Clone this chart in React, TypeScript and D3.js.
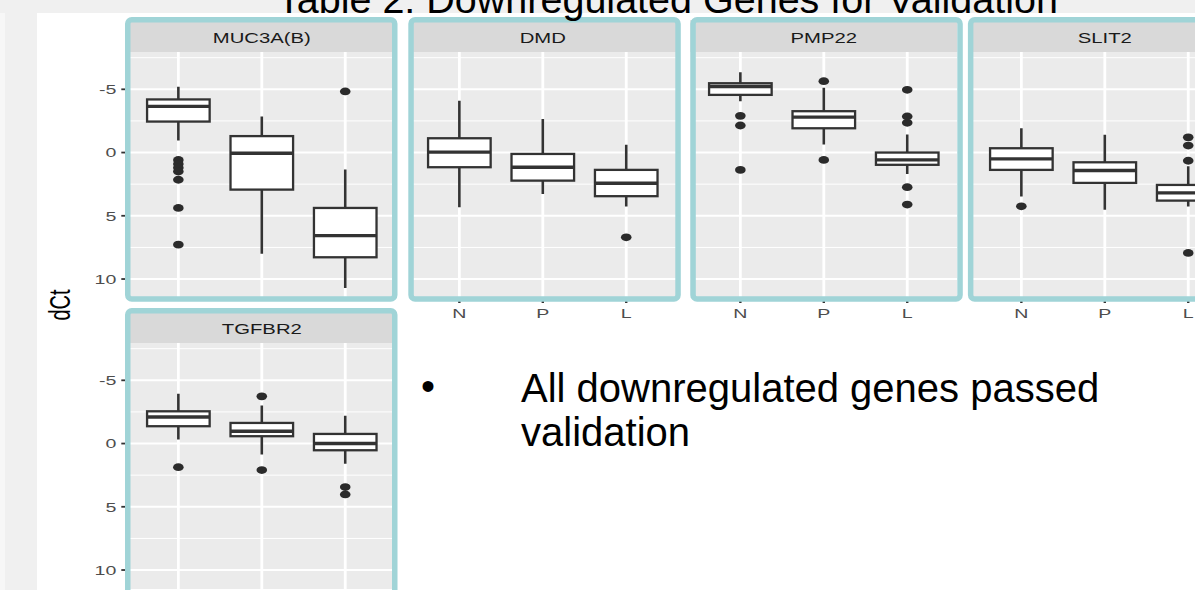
import React, { useEffect, useRef } from "react";
import * as d3 from "d3";

const genes = ["MUC3A(B)", "DMD", "PMP22", "SLIT2", "TGFBR2"];
const groups = ["N", "P", "L"];

// per group: [whisker top, q1, median, q3, whisker bottom] in dCt (axis reversed)
const muc3aStats = [
  [-5.2, -4.2, -3.65, -2.45, -0.95],
  [-2.85, -1.3, 0.05, 2.93, 8.0],
  [1.35, 4.38, 6.57, 8.28, 10.7],
];
const muc3aOutliers = [[0.58, 0.9, 1.2, 1.5, 2.15, 4.38, 7.28], [], [-4.83]];

const dmdStats = [
  [-4.1, -1.13, -0.03, 1.16, 4.33],
  [-2.66, 0.11, 1.16, 2.22, 3.27],
  [-0.61, 1.37, 2.43, 3.45, 4.27],
];
const dmdOutliers = [[], [], [6.7]];

const pmp22Stats = [
  [-6.35, -5.48, -5.22, -4.56, -4.06],
  [-5.12, -3.27, -2.8, -1.92, -0.63],
  [-1.42, 0.0, 0.58, 0.97, 1.69],
];
const pmp22Outliers = [[-2.9, -2.14, 1.37], [-5.64, 0.58], [-4.96, -2.85, -2.35, 2.74, 4.11]];

const slit2Stats = [
  [-1.92, -0.34, 0.5, 1.37, 3.48],
  [-1.4, 0.77, 1.42, 2.4, 4.53],
  [1.08, 2.56, 3.19, 3.8, 4.27],
];
const slit2Outliers = [[4.25], [], [-1.2, -0.55, 0.65, 7.94]];

const tgfbr2Stats = [
  [-3.94, -2.55, -2.1, -1.37, -0.32],
  [-3.0, -1.63, -0.97, -0.58, 0.87],
  [-2.2, -0.76, 0.0, 0.53, 1.6],
];
const tgfbr2Outliers = [[1.87], [-3.73, 2.1], [3.44, 4.02]];

const allStats = [muc3aStats, dmdStats, pmp22Stats, slit2Stats, tgfbr2Stats];
const allOutliers = [muc3aOutliers, dmdOutliers, pmp22Outliers, slit2Outliers, tgfbr2Outliers];

const yTicks = [-5, 0, 5, 10];
const yMinor = [-7.5, -2.5, 2.5, 7.5];
const yDomain = [-7.95, 11.5];

const title = "Table 2: Downregulated Genes for Validation";
const bulletLines = ["All downregulated genes passed", "validation"];

const W = 1195;
const H = 590;
const SX = 1.45; // the ggplot picture is stretched horizontally
const FONT = "'Liberation Sans', Arial, Helvetica, sans-serif";

const App = () => {
  const svgRef = useRef(null);

  useEffect(() => {
    const svg = d3.select(svgRef.current);
    svg.selectAll("*").remove();

    const firstX = 128.3;
    const colStep = 281;
    const panelW = 267;
    const rowTop = [20, 311];
    const stripH = 32;
    const panelH = 246;
    const borderShift = [-3.3, -1, 0, -3.4];
    const borderW = 5.5;

    // background
    svg.append("rect").attr("width", W).attr("height", H).attr("fill", "#ffffff");
    svg.append("rect").attr("width", 37).attr("height", H).attr("fill", "#f0f0f0");
    svg.append("rect").attr("y", 13).attr("width", 5).attr("height", H).attr("fill", "#f7f7f7");
    svg.append("rect").attr("width", W).attr("height", 13).attr("fill", "#f0f0f0");

    const defs = svg.append("defs");

    genes.forEach((gene, i) => {
      const row = Math.floor(i / 4);
      const col = i % 4;
      const x0 = firstX + col * colStep;
      const top = rowTop[row];
      const py0 = top + stripH;
      const py1 = py0 + panelH;

      const x = d3.scalePoint().domain(groups).range([x0, x0 + panelW]).padding(0.6);
      const y = d3.scaleLinear().domain(yDomain).range([py0, py1]);
      const bw = x.step() * 0.75;

      defs
        .append("clipPath")
        .attr("id", `clip-${i}`)
        .append("rect")
        .attr("x", x0)
        .attr("y", py0)
        .attr("width", panelW)
        .attr("height", panelH);

      const g = svg.append("g").attr("clip-path", `url(#clip-${i})`);

      g.append("rect")
        .attr("x", x0)
        .attr("y", py0)
        .attr("width", panelW)
        .attr("height", panelH)
        .attr("fill", "#ebebeb");

      // grid
      g.selectAll(".minor")
        .data(yMinor)
        .enter()
        .append("line")
        .attr("x1", x0)
        .attr("x2", x0 + panelW)
        .attr("y1", (d) => y(d))
        .attr("y2", (d) => y(d))
        .attr("stroke", "#ffffff")
        .attr("stroke-width", 1);
      g.selectAll(".major")
        .data(yTicks)
        .enter()
        .append("line")
        .attr("x1", x0)
        .attr("x2", x0 + panelW)
        .attr("y1", (d) => y(d))
        .attr("y2", (d) => y(d))
        .attr("stroke", "#ffffff")
        .attr("stroke-width", 2);
      g.selectAll(".vgrid")
        .data(groups)
        .enter()
        .append("line")
        .attr("x1", (d) => x(d))
        .attr("x2", (d) => x(d))
        .attr("y1", py0)
        .attr("y2", py1)
        .attr("stroke", "#ffffff")
        .attr("stroke-width", 2.8);

      // boxplots
      const stats = allStats[i];
      const outs = allOutliers[i];
      groups.forEach((grp, k) => {
        const [wTop, q1, med, q3, wBot] = stats[k];
        const cx = x(grp);
        g.append("line")
          .attr("x1", cx)
          .attr("x2", cx)
          .attr("y1", y(wTop))
          .attr("y2", y(wBot))
          .attr("stroke", "#333333")
          .attr("stroke-width", 2.6);
        g.append("rect")
          .attr("x", cx - bw / 2)
          .attr("y", y(q1))
          .attr("width", bw)
          .attr("height", y(q3) - y(q1))
          .attr("fill", "#ffffff")
          .attr("stroke", "#333333")
          .attr("stroke-width", 2.3);
        g.append("line")
          .attr("x1", cx - bw / 2)
          .attr("x2", cx + bw / 2)
          .attr("y1", y(med))
          .attr("y2", y(med))
          .attr("stroke", "#333333")
          .attr("stroke-width", 3.4);
        g.selectAll(`.out-${k}`)
          .data(outs[k])
          .enter()
          .append("ellipse")
          .attr("cx", cx)
          .attr("cy", (d) => y(d))
          .attr("rx", 5.3)
          .attr("ry", 3.9)
          .attr("fill", "#2b2b2b");
      });

      // strip
      svg.append("rect")
        .attr("x", x0)
        .attr("y", top)
        .attr("width", panelW)
        .attr("height", stripH)
        .attr("fill", "#d9d9d9");
      svg.append("text")
        .attr("transform", `translate(${x0 + panelW / 2},${top + 23}) scale(${SX},1)`)
        .attr("text-anchor", "middle")
        .attr("font-family", FONT)
        .attr("font-size", 14)
        .attr("fill", "#1a1a1a")
        .text(gene);

      // y axis
      if (col === 0) {
        yTicks.forEach((t) => {
          svg.append("line")
            .attr("x1", x0 - 7)
            .attr("x2", x0 - 3)
            .attr("y1", y(t))
            .attr("y2", y(t))
            .attr("stroke", "#333333")
            .attr("stroke-width", 1.8);
          svg.append("text")
            .attr("transform", `translate(${x0 - 12},${y(t) + 4.8}) scale(${SX},1)`)
            .attr("text-anchor", "end")
            .attr("font-family", FONT)
            .attr("font-size", 13.5)
            .attr("fill", "#4d4d4d")
            .text(t);
        });
      }

      // x axis under the top-row panels that have nothing below (bottom row is cut off)
      if (row === 0 && i + 4 >= genes.length) {
        groups.forEach((grp) => {
          svg.append("line")
            .attr("x1", x(grp))
            .attr("x2", x(grp))
            .attr("y1", py1)
            .attr("y2", py1 + 5)
            .attr("stroke", "#333333")
            .attr("stroke-width", 2.4);
          svg.append("text")
            .attr("transform", `translate(${x(grp)},${py1 + 20}) scale(${SX},1)`)
            .attr("text-anchor", "middle")
            .attr("font-family", FONT)
            .attr("font-size", 13.5)
            .attr("fill", "#4d4d4d")
            .text(grp);
        });
      }

      // highlight frame
      const outerLeft = x0 + borderShift[col];
      const bTop = top - 0.25;
      const bBottom = row === 0 ? py1 + 1 : H + 10;
      svg.append("rect")
        .attr("x", outerLeft + borderW / 2)
        .attr("y", bTop)
        .attr("width", 272.5 - borderW)
        .attr("height", bBottom - bTop)
        .attr("rx", 4)
        .attr("fill", "none")
        .attr("stroke", "#a0d4d7")
        .attr("stroke-width", borderW);
    });

    // y axis title
    svg.append("text")
      .attr("transform", `translate(70,305) scale(${SX},1) rotate(-90)`)
      .attr("text-anchor", "middle")
      .attr("font-family", FONT)
      .attr("font-size", 20)
      .attr("fill", "#000000")
      .text("dCt");

    // slide title (cut at the top)
    svg.append("text")
      .attr("x", 277)
      .attr("y", 12.5)
      .attr("font-family", FONT)
      .attr("font-size", 39.5)
      .attr("fill", "#000000")
      .text(title);

    // bullet text
    svg.append("text")
      .attr("x", 421)
      .attr("y", 400)
      .attr("font-family", FONT)
      .attr("font-size", 40)
      .attr("fill", "#000000")
      .text("\u2022");
    bulletLines.forEach((line, k) => {
      svg.append("text")
        .attr("x", 521)
        .attr("y", 402 + k * 44)
        .attr("font-family", FONT)
        .attr("font-size", 40)
        .attr("fill", "#000000")
        .text(line);
    });
  }, []);

  return (
    <svg
      ref={svgRef}
      width={W}
      height={H}
      style={{ position: "absolute", left: 0, top: 0 }}
    ></svg>
  );
};

export default App;
